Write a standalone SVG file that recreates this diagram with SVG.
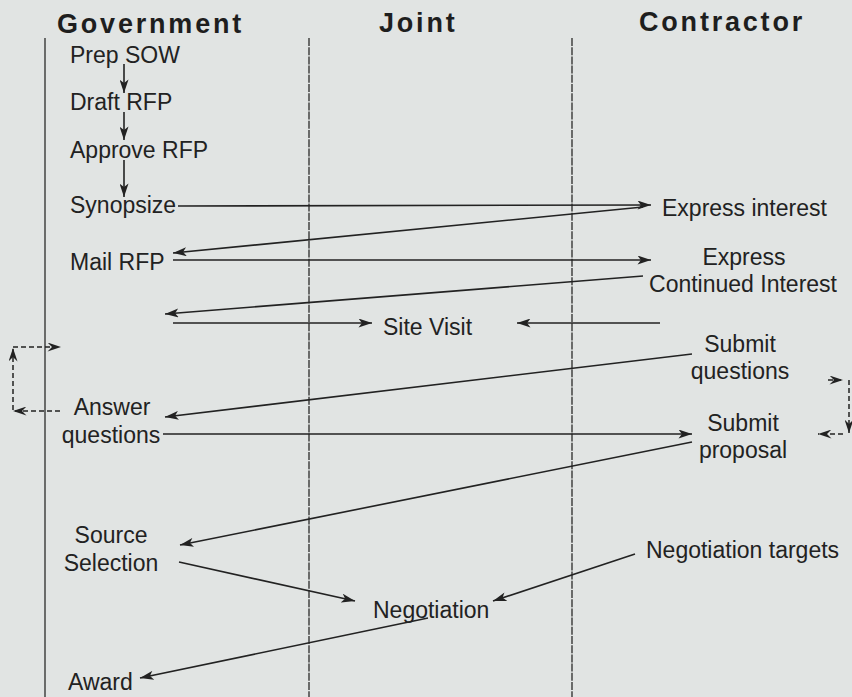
<svg xmlns="http://www.w3.org/2000/svg" width="852" height="697" viewBox="0 0 852 697">
  <style>
    .hdr { font-family: "Liberation Sans", Arial, sans-serif; font-weight: bold; font-size: 27px; letter-spacing: 2.8px; fill: #1e1e1e; }
    .lbl { font-family: "Liberation Sans", Arial, sans-serif; font-size: 23px; fill: #222; }
    .mid { text-anchor: middle; }
    .lane { stroke: #2a2a2a; stroke-width: 1.3; fill: none; }
    .lane-d { stroke: #2a2a2a; stroke-width: 1.3; fill: none; stroke-dasharray: 8 1.2; }
    .arr { stroke: #222; stroke-width: 1.6; fill: none; marker-end: url(#ah); }
    .dash { stroke: #222; stroke-width: 1.5; fill: none; stroke-dasharray: 5 3; marker-end: url(#ahs); }
  </style>
  <defs>
    <marker id="ah" viewBox="0 0 12 8" refX="12" refY="4" markerWidth="14" markerHeight="9" markerUnits="userSpaceOnUse" orient="auto">
      <path d="M0,0 L12,4 L0,8 L3,4 z" fill="#222"/>
    </marker>
    <marker id="ahs" viewBox="0 0 12 8" refX="12" refY="4" markerWidth="14" markerHeight="9" markerUnits="userSpaceOnUse" orient="auto">
      <path d="M0,0 L12,4 L0,8 L4,4 z" fill="#222"/>
    </marker>
  </defs>
  <rect width="852" height="697" fill="#e1e4e3"/>

  <g id="lanes">
    <line class="lane" x1="45" y1="38" x2="45" y2="697"/>
    <line class="lane-d" x1="309" y1="38" x2="309" y2="697"/>
    <line class="lane-d" x1="572" y1="38" x2="572" y2="697"/>
  </g>

  <g id="headers">
    <text class="hdr" x="57" y="33">Government</text>
    <text class="hdr" x="379" y="32">Joint</text>
    <text class="hdr" x="639" y="31">Contractor</text>
  </g>

  <g id="connectors">
    <line class="arr" x1="124" y1="64" x2="124" y2="93"/>
    <line class="arr" x1="124" y1="112" x2="124" y2="140"/>
    <line class="arr" x1="124" y1="160" x2="124" y2="197"/>
    <line class="arr" x1="178" y1="206" x2="651" y2="205"/>
    <line class="arr" x1="643" y1="207" x2="173" y2="253"/>
    <line class="arr" x1="173" y1="260" x2="651" y2="260"/>
    <line class="arr" x1="643" y1="276" x2="165" y2="314"/>
    <line class="arr" x1="173" y1="323" x2="372" y2="323"/>
    <line class="arr" x1="660" y1="323" x2="517" y2="323"/>
    <line class="arr" x1="692" y1="354" x2="165" y2="417"/>
    <line class="arr" x1="163" y1="434" x2="692" y2="434"/>
    <line class="arr" x1="692" y1="442" x2="180" y2="545"/>
    <line class="arr" x1="179" y1="562" x2="355" y2="601"/>
    <line class="arr" x1="635" y1="554" x2="493" y2="601"/>
    <line class="arr" x1="428" y1="618" x2="140" y2="678"/>
    <path class="dash" d="M60,411 H13"/>
    <path class="dash" d="M13,410 V348"/>
    <path class="dash" d="M13,347 H61"/>
    <path class="dash" d="M828,380 H843"/>
    <path class="dash" d="M849,380 V433"/>
    <path class="dash" d="M843,434 H818"/>
  </g>

  <g id="prep-sow"><text class="lbl" x="70" y="63">Prep SOW</text></g>
  <g id="draft-rfp"><text class="lbl" x="70" y="110">Draft RFP</text></g>
  <g id="approve-rfp"><text class="lbl" x="70" y="158">Approve RFP</text></g>
  <g id="synopsize"><text class="lbl" x="70" y="213">Synopsize</text></g>
  <g id="mail-rfp"><text class="lbl" x="70" y="270">Mail RFP</text></g>
  <g id="express-interest"><text class="lbl" x="662" y="216">Express interest</text></g>
  <g id="express-continued">
    <text class="lbl mid" x="744" y="265">Express</text>
    <text class="lbl mid" x="743" y="292">Continued Interest</text>
  </g>
  <g id="site-visit"><text class="lbl" x="383" y="335">Site Visit</text></g>
  <g id="submit-questions">
    <text class="lbl mid" x="740" y="352">Submit</text>
    <text class="lbl mid" x="740" y="379">questions</text>
  </g>
  <g id="answer-questions">
    <text class="lbl mid" x="112" y="415">Answer</text>
    <text class="lbl mid" x="111" y="443">questions</text>
  </g>
  <g id="submit-proposal">
    <text class="lbl mid" x="743" y="431">Submit</text>
    <text class="lbl mid" x="743" y="458">proposal</text>
  </g>
  <g id="source-selection">
    <text class="lbl mid" x="111" y="543">Source</text>
    <text class="lbl mid" x="111" y="571">Selection</text>
  </g>
  <g id="negotiation-targets"><text class="lbl" x="646" y="558">Negotiation targets</text></g>
  <g id="negotiation"><text class="lbl" x="373" y="618">Negotiation</text></g>
  <g id="award"><text class="lbl" x="68" y="690">Award</text></g>
</svg>
